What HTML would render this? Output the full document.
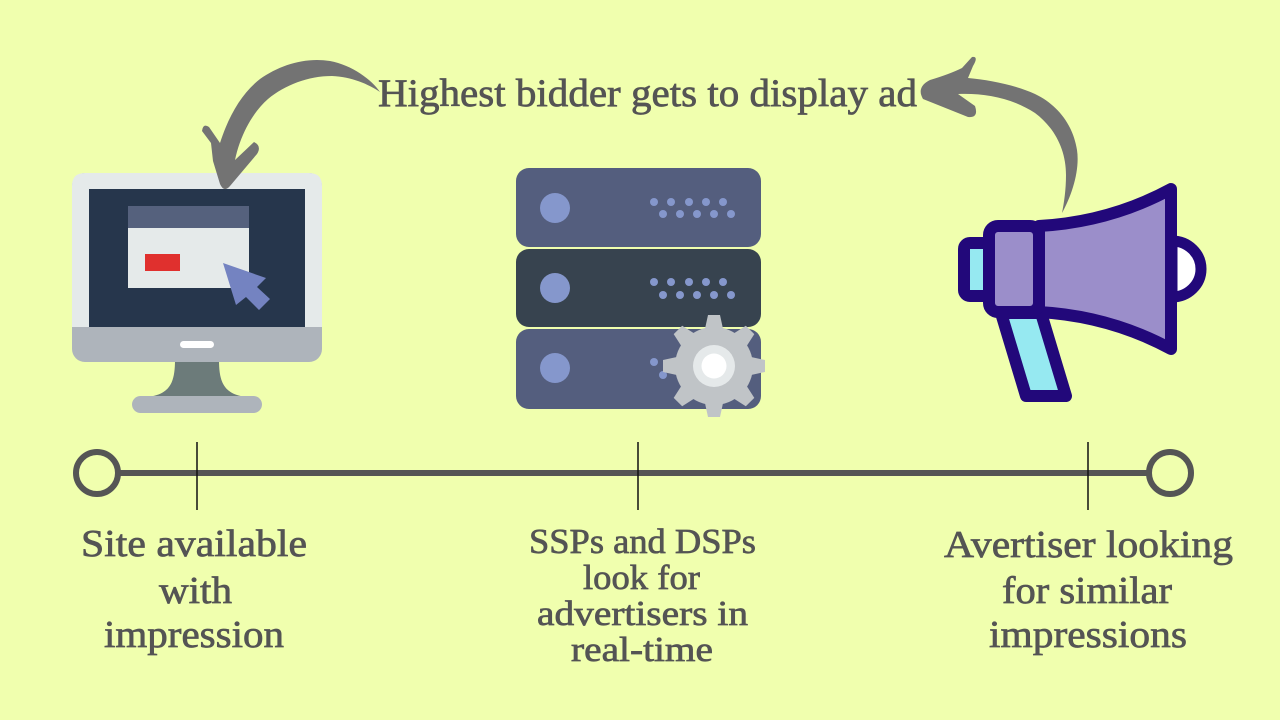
<!DOCTYPE html>
<html>
<head>
<meta charset="utf-8">
<style>
html,body{margin:0;padding:0;background:#F0FFAE;}
svg{display:block;}
text{font-family:"Liberation Serif",serif;fill:#545454;stroke:#545454;stroke-width:0.7;}
</style>
</head>
<body>
<svg width="1280" height="720" viewBox="0 0 1280 720" xmlns="http://www.w3.org/2000/svg">
<rect x="0" y="0" width="1280" height="720" fill="#F0FFAE"/>

<!-- ===== Monitor ===== -->
<path d="M175,360 L219,360 C219,384 225,394 246,397 L148,397 C169,394 175,384 175,360 Z" fill="#6C7B7A"/>
<rect x="132" y="396" width="130" height="17" rx="8.5" fill="#AEB4BB"/>
<rect x="72" y="173" width="250" height="189" rx="13" fill="#AEB4BB"/>
<path d="M85,173 L309,173 Q322,173 322,186 L322,327 L72,327 L72,186 Q72,173 85,173 Z" fill="#E5EAEA"/>
<rect x="89" y="189" width="216" height="138" fill="#26364C"/>
<rect x="128" y="206" width="121" height="82" fill="#E5EAEA"/>
<rect x="128" y="206" width="121" height="22" fill="#55617D"/>
<rect x="145" y="254" width="35" height="17" fill="#E0302E"/>
<polygon points="223,263 266,278 257,287 270,299 259,310 246,297 236,305" fill="#7483C1"/>
<rect x="180" y="341" width="34" height="7" rx="3.5" fill="#FFFFFF"/>

<!-- ===== Server ===== -->
<rect x="516" y="168" width="245" height="79" rx="13" fill="#545E7E"/>
<rect x="516" y="249" width="245" height="78" rx="13" fill="#37434F"/>
<rect x="516" y="329" width="245" height="80" rx="13" fill="#545E7E"/>
<g fill="#8597CC">
<circle cx="555" cy="208" r="15"/>
<circle cx="555" cy="288" r="15"/>
<circle cx="555" cy="368" r="15"/>
<circle cx="654" cy="202" r="4"/><circle cx="671" cy="202" r="4"/><circle cx="689" cy="202" r="4"/><circle cx="706" cy="202" r="4"/><circle cx="723" cy="202" r="4"/>
<circle cx="663" cy="214" r="4"/><circle cx="680" cy="214" r="4"/><circle cx="697" cy="214" r="4"/><circle cx="714" cy="214" r="4"/><circle cx="731" cy="214" r="4"/>
<circle cx="654" cy="282" r="4"/><circle cx="671" cy="282" r="4"/><circle cx="689" cy="282" r="4"/><circle cx="706" cy="282" r="4"/><circle cx="723" cy="282" r="4"/>
<circle cx="663" cy="295" r="4"/><circle cx="680" cy="295" r="4"/><circle cx="697" cy="295" r="4"/><circle cx="714" cy="295" r="4"/><circle cx="731" cy="295" r="4"/>
<circle cx="654" cy="362" r="4"/><circle cx="663" cy="375" r="4"/>
</g>
<!-- gear -->
<g fill="#C0C4C7">
<circle cx="714" cy="366" r="39"/>
<polygon points="708,315 720,315 725,338 703,338"/>
<polygon points="708,315 720,315 725,338 703,338" transform="rotate(45 714 366)"/>
<polygon points="708,315 720,315 725,338 703,338" transform="rotate(90 714 366)"/>
<polygon points="708,315 720,315 725,338 703,338" transform="rotate(135 714 366)"/>
<polygon points="708,315 720,315 725,338 703,338" transform="rotate(180 714 366)"/>
<polygon points="708,315 720,315 725,338 703,338" transform="rotate(225 714 366)"/>
<polygon points="708,315 720,315 725,338 703,338" transform="rotate(270 714 366)"/>
<polygon points="708,315 720,315 725,338 703,338" transform="rotate(315 714 366)"/>
</g>
<circle cx="714" cy="366" r="21" fill="#E5E9EA"/>
<circle cx="714" cy="366" r="12.5" fill="#FFFFFF"/>

<!-- ===== Megaphone ===== -->
<g stroke="#22087A" stroke-width="12" stroke-linejoin="round">
<polygon points="1001,313 1041,313 1066,396 1026,396" fill="#96E9F1"/>
<rect x="964" y="243" width="30" height="53" rx="6" fill="#96E9F1"/>
<path d="M1172,241 A 29 28 0 0 1 1172,297 Z" fill="#FFFFFF" stroke-width="11"/>
<path d="M1039,226 Q1110,222 1171,189 L1171,349 Q1110,316 1039,312 Z" fill="#9B8ECA"/>
<rect x="989" y="226" width="50" height="86" rx="9" fill="#9B8ECA"/>
</g>

<!-- ===== Curved arrows ===== -->
<path fill="#737373" d="M380,92
C372,80 352,65 330,61
C305,57 280,65 260,79
C242,93 229,115 220,143
L209,127 Q203,123 202,131
L211,143 L213,161 L220,184
Q224,193 230,186
L257,154 Q262,146 254,142
L235,160
C240,136 252,113 268,99
C285,85 308,76 332,76
C352,77 368,84 380,92 Z"/>
<path fill="#737373" d="M1062,213
C1072,195 1080,170 1077,150
C1073,125 1058,105 1035,94
C1015,85 990,80 968,78
L973,66 Q979,56 972,57
L962,68 Q950,74 930,80
Q916,87 923,99
L968,117 Q979,118 975,106
L958,94
C985,93 1012,98 1035,113
C1055,128 1066,150 1066,175
C1066,190 1064,203 1062,213 Z"/>

<!-- ===== Title ===== -->
<text x="378" y="106" font-size="39" textLength="539" lengthAdjust="spacingAndGlyphs">Highest bidder gets to display ad</text>

<!-- ===== Timeline ===== -->
<line x1="117" y1="473" x2="1150" y2="473" stroke="#555555" stroke-width="6"/>
<circle cx="97" cy="473" r="21" fill="none" stroke="#555555" stroke-width="6"/>
<circle cx="1170" cy="473" r="21" fill="none" stroke="#555555" stroke-width="6"/>
<g stroke="#111111" stroke-width="1.5">
<line x1="197" y1="442" x2="197" y2="510"/>
<line x1="638" y1="442" x2="638" y2="510"/>
<line x1="1088" y1="442" x2="1088" y2="510"/>
</g>

<!-- ===== Labels ===== -->
<g font-size="38">
<text x="81" y="556" textLength="226" lengthAdjust="spacingAndGlyphs">Site available</text>
<text x="159" y="603" textLength="73" lengthAdjust="spacingAndGlyphs">with</text>
<text x="104" y="647" textLength="180" lengthAdjust="spacingAndGlyphs">impression</text>

<text x="944" y="557" textLength="289" lengthAdjust="spacingAndGlyphs">Avertiser looking</text>
<text x="1002" y="603" textLength="170" lengthAdjust="spacingAndGlyphs">for similar</text>
<text x="989" y="647" textLength="198" lengthAdjust="spacingAndGlyphs">impressions</text>
</g>
<g font-size="35">
<text x="529" y="553" textLength="227" lengthAdjust="spacingAndGlyphs">SSPs and DSPs</text>
<text x="583" y="589" textLength="117" lengthAdjust="spacingAndGlyphs">look for</text>
<text x="537" y="625" textLength="211" lengthAdjust="spacingAndGlyphs">advertisers in</text>
<text x="571" y="661" textLength="142" lengthAdjust="spacingAndGlyphs">real-time</text>
</g>
</svg>
</body>
</html>
